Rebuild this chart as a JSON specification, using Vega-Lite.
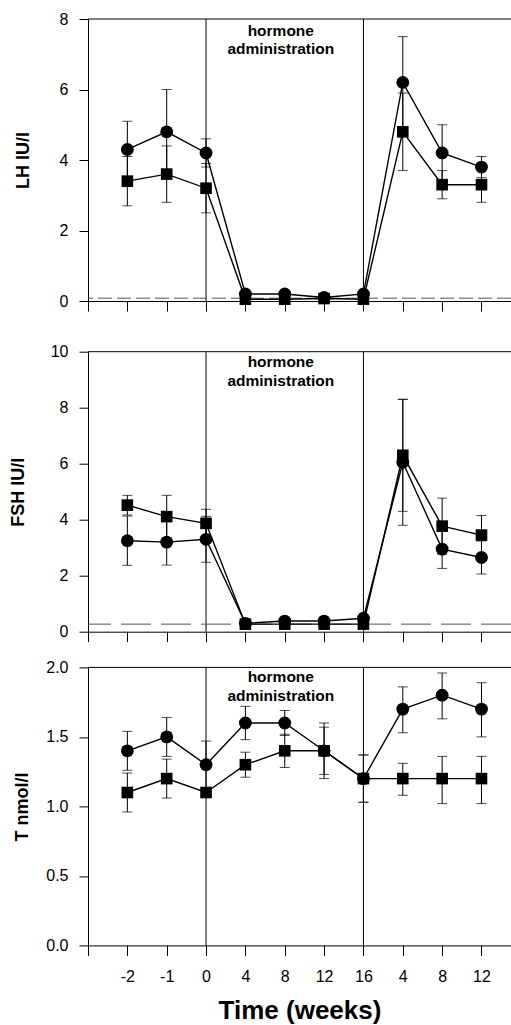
{
  "$schema": "https://vega.github.io/schema/vega-lite/v6.json",
  "padding": {"left": 9, "top": 11, "right": 0, "bottom": 0},
  "background": "white",
  "spacing": 16.7,
  "config": {
    "view": {"stroke": null},
    "axis": {
      "grid": false,
      "domainColor": "black",
      "domainWidth": 1,
      "tickColor": "black",
      "tickWidth": 1,
      "labelColor": "black",
      "labelFont": "Liberation Sans",
      "labelFontSize": 16,
      "titleFont": "Liberation Sans",
      "titleFontWeight": "bold",
      "titleColor": "black"
    }
  },
  "datasets": {
    "pts": [
      {"p": "LH", "pos": 0, "g": "c", "v": 4.3, "lo": 3.5, "hi": 5.1},
      {"p": "LH", "pos": 1, "g": "c", "v": 4.8, "lo": 3.6, "hi": 6.0},
      {"p": "LH", "pos": 2, "g": "c", "v": 4.2, "lo": 3.8, "hi": 4.6},
      {"p": "LH", "pos": 3, "g": "c", "v": 0.2},
      {"p": "LH", "pos": 4, "g": "c", "v": 0.2},
      {"p": "LH", "pos": 5, "g": "c", "v": 0.1},
      {"p": "LH", "pos": 6, "g": "c", "v": 0.2},
      {"p": "LH", "pos": 7, "g": "c", "v": 6.2, "lo": 4.9, "hi": 7.5},
      {"p": "LH", "pos": 8, "g": "c", "v": 4.2, "lo": 3.4, "hi": 5.0},
      {"p": "LH", "pos": 9, "g": "c", "v": 3.8, "lo": 3.5, "hi": 4.1},
      {"p": "LH", "pos": 0, "g": "s", "v": 3.4, "lo": 2.7, "hi": 4.1},
      {"p": "LH", "pos": 1, "g": "s", "v": 3.6, "lo": 2.8, "hi": 4.4},
      {"p": "LH", "pos": 2, "g": "s", "v": 3.2, "lo": 2.5, "hi": 3.9},
      {"p": "LH", "pos": 3, "g": "s", "v": 0.05},
      {"p": "LH", "pos": 4, "g": "s", "v": 0.05},
      {"p": "LH", "pos": 5, "g": "s", "v": 0.07},
      {"p": "LH", "pos": 6, "g": "s", "v": 0.05},
      {"p": "LH", "pos": 7, "g": "s", "v": 4.8, "lo": 3.7, "hi": 5.9},
      {"p": "LH", "pos": 8, "g": "s", "v": 3.3, "lo": 2.9, "hi": 3.7},
      {"p": "LH", "pos": 9, "g": "s", "v": 3.3, "lo": 2.8, "hi": 3.8},
      {"p": "FSH", "pos": 0, "g": "c", "v": 3.25, "lo": 2.37, "hi": 4.13},
      {"p": "FSH", "pos": 1, "g": "c", "v": 3.2, "lo": 2.38, "hi": 4.02},
      {"p": "FSH", "pos": 2, "g": "c", "v": 3.3, "lo": 2.48, "hi": 4.12},
      {"p": "FSH", "pos": 3, "g": "c", "v": 0.3},
      {"p": "FSH", "pos": 4, "g": "c", "v": 0.38},
      {"p": "FSH", "pos": 5, "g": "c", "v": 0.38},
      {"p": "FSH", "pos": 6, "g": "c", "v": 0.48},
      {"p": "FSH", "pos": 7, "g": "c", "v": 6.05, "lo": 3.8, "hi": 8.3},
      {"p": "FSH", "pos": 8, "g": "c", "v": 2.95, "lo": 2.26, "hi": 3.64},
      {"p": "FSH", "pos": 9, "g": "c", "v": 2.65, "lo": 2.06, "hi": 3.24},
      {"p": "FSH", "pos": 0, "g": "s", "v": 4.52, "lo": 4.17, "hi": 4.87},
      {"p": "FSH", "pos": 1, "g": "s", "v": 4.11, "lo": 3.35, "hi": 4.87},
      {"p": "FSH", "pos": 2, "g": "s", "v": 3.87, "lo": 3.37, "hi": 4.37},
      {"p": "FSH", "pos": 3, "g": "s", "v": 0.27},
      {"p": "FSH", "pos": 4, "g": "s", "v": 0.27},
      {"p": "FSH", "pos": 5, "g": "s", "v": 0.27},
      {"p": "FSH", "pos": 6, "g": "s", "v": 0.27},
      {"p": "FSH", "pos": 7, "g": "s", "v": 6.3, "lo": 4.3, "hi": 8.3},
      {"p": "FSH", "pos": 8, "g": "s", "v": 3.77, "lo": 2.77, "hi": 4.77},
      {"p": "FSH", "pos": 9, "g": "s", "v": 3.45, "lo": 2.75, "hi": 4.15},
      {"p": "T", "pos": 0, "g": "c", "v": 1.4, "lo": 1.26, "hi": 1.54},
      {"p": "T", "pos": 1, "g": "c", "v": 1.5, "lo": 1.36, "hi": 1.64},
      {"p": "T", "pos": 2, "g": "c", "v": 1.3, "lo": 1.13, "hi": 1.47},
      {"p": "T", "pos": 3, "g": "c", "v": 1.6, "lo": 1.48, "hi": 1.72},
      {"p": "T", "pos": 4, "g": "c", "v": 1.6, "lo": 1.51, "hi": 1.69},
      {"p": "T", "pos": 5, "g": "c", "v": 1.4, "lo": 1.23, "hi": 1.57},
      {"p": "T", "pos": 6, "g": "c", "v": 1.2, "lo": 1.03, "hi": 1.37},
      {"p": "T", "pos": 7, "g": "c", "v": 1.7, "lo": 1.53, "hi": 1.86},
      {"p": "T", "pos": 8, "g": "c", "v": 1.8, "lo": 1.63, "hi": 1.96},
      {"p": "T", "pos": 9, "g": "c", "v": 1.7, "lo": 1.5, "hi": 1.89},
      {"p": "T", "pos": 0, "g": "s", "v": 1.1, "lo": 0.96, "hi": 1.24},
      {"p": "T", "pos": 1, "g": "s", "v": 1.2, "lo": 1.06, "hi": 1.34},
      {"p": "T", "pos": 2, "g": "s", "v": 1.1, "lo": 1.07, "hi": 1.13},
      {"p": "T", "pos": 3, "g": "s", "v": 1.3, "lo": 1.21, "hi": 1.39},
      {"p": "T", "pos": 4, "g": "s", "v": 1.4, "lo": 1.28, "hi": 1.52},
      {"p": "T", "pos": 5, "g": "s", "v": 1.4, "lo": 1.2, "hi": 1.6},
      {"p": "T", "pos": 6, "g": "s", "v": 1.2, "lo": 1.03, "hi": 1.37},
      {"p": "T", "pos": 7, "g": "s", "v": 1.2, "lo": 1.08, "hi": 1.31},
      {"p": "T", "pos": 8, "g": "s", "v": 1.2, "lo": 1.02, "hi": 1.36},
      {"p": "T", "pos": 9, "g": "s", "v": 1.2, "lo": 1.02, "hi": 1.36}
    ],
    "vlines": [{"pos": 2}, {"pos": 6}],
    "notes": [
      {"p": "LH", "pos": 3.9, "v": 7.53, "top": 8, "ref": 0.08},
      {"p": "FSH", "pos": 3.9, "v": 9.44, "top": 10, "ref": 0.27},
      {"p": "T", "pos": 3.9, "v": 1.892, "top": 2}
    ]
  },
  "vconcat": [
    {
      "width": 423,
      "height": 282,
      "layer": [
        {"data": {"name": "vlines"}, "mark": {"type": "rule", "color": "black", "strokeWidth": 1}, "encoding": {"x": {"field": "pos", "type": "quantitative"}}},
        {"data": {"name": "notes"}, "transform": [{"filter": "datum.p == 'LH'"}], "mark": {"type": "rule", "color": "black", "strokeWidth": 1}, "encoding": {"y": {"field": "top", "type": "quantitative"}}},
        {"data": {"name": "notes"}, "transform": [{"filter": "datum.p == 'LH'"}], "mark": {"type": "rule", "color": "#555", "strokeWidth": 1, "strokeDash": [14, 5]}, "encoding": {"y": {"field": "ref", "type": "quantitative"}}},
        {"data": {"name": "pts"}, "transform": [{"filter": "datum.p == 'LH' && isValid(datum.lo)"}], "mark": {"type": "rule", "color": "black", "strokeWidth": 1}, "encoding": {"x": {"field": "pos", "type": "quantitative"}, "y": {"field": "lo", "type": "quantitative"}, "y2": {"field": "hi"}}},
        {"data": {"name": "pts"}, "transform": [{"filter": "datum.p == 'LH' && isValid(datum.lo)"}], "mark": {"type": "tick", "orient": "horizontal", "color": "black", "thickness": 1, "size": 10}, "encoding": {"x": {"field": "pos", "type": "quantitative"}, "y": {"field": "lo", "type": "quantitative"}}},
        {"data": {"name": "pts"}, "transform": [{"filter": "datum.p == 'LH' && isValid(datum.lo)"}], "mark": {"type": "tick", "orient": "horizontal", "color": "black", "thickness": 1, "size": 10}, "encoding": {"x": {"field": "pos", "type": "quantitative"}, "y": {"field": "hi", "type": "quantitative"}}},
        {"data": {"name": "pts"}, "transform": [{"filter": "datum.p == 'LH'"}], "mark": {"type": "line", "color": "black", "strokeWidth": 1.4}, "encoding": {"x": {"field": "pos", "type": "quantitative"}, "y": {"field": "v", "type": "quantitative"}, "detail": {"field": "g"}, "order": {"field": "pos"}}},
        {"data": {"name": "pts"}, "transform": [{"filter": "datum.p == 'LH'"}], "mark": {"type": "point", "filled": true, "color": "black", "opacity": 1}, "encoding": {"x": {"field": "pos", "type": "quantitative"}, "y": {"field": "v", "type": "quantitative"}, "shape": {"field": "g", "type": "nominal", "scale": {"domain": ["c", "s"], "range": ["circle", "square"]}, "legend": null}, "size": {"field": "g", "type": "nominal", "scale": {"domain": ["c", "s"], "range": [165, 135]}, "legend": null}}},
        {"data": {"name": "notes"}, "transform": [{"filter": "datum.p == 'LH'"}], "mark": {"type": "text", "font": "Liberation Sans", "fontWeight": "bold", "fontSize": 15.5, "lineHeight": 18.3, "align": "center", "baseline": "alphabetic", "color": "black", "text": ["hormone", "administration"]}, "encoding": {"x": {"field": "pos", "type": "quantitative"}, "y": {"field": "v", "type": "quantitative"}}}
      ],
      "encoding": {
        "x": {"type": "quantitative", "scale": {"domain": [-1, 9.75], "nice": false, "zero": false},
              "axis": {"title": null, "values": [-1, 0, 1, 2, 3, 4, 5, 6, 7, 8, 9], "tickSize": 10, "labelOpacity": 0, "labelFontSize": 10, "labelPadding": 5.3, "labelExpr": "datum.value < 0 ? '' : ['-2','-1','0','4','8','12','16','4','8','12'][datum.value]"}},
        "y": {"type": "quantitative", "scale": {"domain": [0, 8], "nice": false, "zero": false},
              "axis": {"title": "LH IU/l", "values": [0, 2, 4, 6, 8], "tickSize": 9, "labelPadding": 11, "titleFontSize": 18, "titlePadding": 27}}
      }
    },
    {
      "width": 423,
      "height": 280,
      "layer": [
        {"data": {"name": "vlines"}, "mark": {"type": "rule", "color": "black", "strokeWidth": 1}, "encoding": {"x": {"field": "pos", "type": "quantitative"}}},
        {"data": {"name": "notes"}, "transform": [{"filter": "datum.p == 'FSH'"}], "mark": {"type": "rule", "color": "black", "strokeWidth": 1}, "encoding": {"y": {"field": "top", "type": "quantitative"}}},
        {"data": {"name": "notes"}, "transform": [{"filter": "datum.p == 'FSH'"}], "mark": {"type": "rule", "color": "#555", "strokeWidth": 1, "strokeDash": [30, 10]}, "encoding": {"y": {"field": "ref", "type": "quantitative"}}},
        {"data": {"name": "pts"}, "transform": [{"filter": "datum.p == 'FSH' && isValid(datum.lo)"}], "mark": {"type": "rule", "color": "black", "strokeWidth": 1}, "encoding": {"x": {"field": "pos", "type": "quantitative"}, "y": {"field": "lo", "type": "quantitative"}, "y2": {"field": "hi"}}},
        {"data": {"name": "pts"}, "transform": [{"filter": "datum.p == 'FSH' && isValid(datum.lo)"}], "mark": {"type": "tick", "orient": "horizontal", "color": "black", "thickness": 1, "size": 10}, "encoding": {"x": {"field": "pos", "type": "quantitative"}, "y": {"field": "lo", "type": "quantitative"}}},
        {"data": {"name": "pts"}, "transform": [{"filter": "datum.p == 'FSH' && isValid(datum.lo)"}], "mark": {"type": "tick", "orient": "horizontal", "color": "black", "thickness": 1, "size": 10}, "encoding": {"x": {"field": "pos", "type": "quantitative"}, "y": {"field": "hi", "type": "quantitative"}}},
        {"data": {"name": "pts"}, "transform": [{"filter": "datum.p == 'FSH'"}], "mark": {"type": "line", "color": "black", "strokeWidth": 1.4}, "encoding": {"x": {"field": "pos", "type": "quantitative"}, "y": {"field": "v", "type": "quantitative"}, "detail": {"field": "g"}, "order": {"field": "pos"}}},
        {"data": {"name": "pts"}, "transform": [{"filter": "datum.p == 'FSH'"}], "mark": {"type": "point", "filled": true, "color": "black", "opacity": 1}, "encoding": {"x": {"field": "pos", "type": "quantitative"}, "y": {"field": "v", "type": "quantitative"}, "shape": {"field": "g", "type": "nominal", "scale": {"domain": ["c", "s"], "range": ["circle", "square"]}, "legend": null}, "size": {"field": "g", "type": "nominal", "scale": {"domain": ["c", "s"], "range": [165, 135]}, "legend": null}}},
        {"data": {"name": "notes"}, "transform": [{"filter": "datum.p == 'FSH'"}], "mark": {"type": "text", "font": "Liberation Sans", "fontWeight": "bold", "fontSize": 15.5, "lineHeight": 18.3, "align": "center", "baseline": "alphabetic", "color": "black", "text": ["hormone", "administration"]}, "encoding": {"x": {"field": "pos", "type": "quantitative"}, "y": {"field": "v", "type": "quantitative"}}}
      ],
      "encoding": {
        "x": {"type": "quantitative", "scale": {"domain": [-1, 9.75], "nice": false, "zero": false},
              "axis": {"title": null, "values": [-1, 0, 1, 2, 3, 4, 5, 6, 7, 8, 9], "tickSize": 10, "labels": false}},
        "y": {"type": "quantitative", "scale": {"domain": [0, 10], "nice": false, "zero": false},
              "axis": {"title": "FSH IU/l", "values": [0, 2, 4, 6, 8, 10], "tickSize": 9, "labelPadding": 11, "titleFontSize": 18, "titlePadding": 23}}
      }
    },
    {
      "width": 423,
      "height": 278,
      "layer": [
        {"data": {"name": "vlines"}, "mark": {"type": "rule", "color": "black", "strokeWidth": 1}, "encoding": {"x": {"field": "pos", "type": "quantitative"}}},
        {"data": {"name": "notes"}, "transform": [{"filter": "datum.p == 'T'"}], "mark": {"type": "rule", "color": "black", "strokeWidth": 1}, "encoding": {"y": {"field": "top", "type": "quantitative"}}},
        {"data": {"name": "pts"}, "transform": [{"filter": "datum.p == 'T' && isValid(datum.lo)"}], "mark": {"type": "rule", "color": "black", "strokeWidth": 1}, "encoding": {"x": {"field": "pos", "type": "quantitative"}, "y": {"field": "lo", "type": "quantitative"}, "y2": {"field": "hi"}}},
        {"data": {"name": "pts"}, "transform": [{"filter": "datum.p == 'T' && isValid(datum.lo)"}], "mark": {"type": "tick", "orient": "horizontal", "color": "black", "thickness": 1, "size": 10}, "encoding": {"x": {"field": "pos", "type": "quantitative"}, "y": {"field": "lo", "type": "quantitative"}}},
        {"data": {"name": "pts"}, "transform": [{"filter": "datum.p == 'T' && isValid(datum.lo)"}], "mark": {"type": "tick", "orient": "horizontal", "color": "black", "thickness": 1, "size": 10}, "encoding": {"x": {"field": "pos", "type": "quantitative"}, "y": {"field": "hi", "type": "quantitative"}}},
        {"data": {"name": "pts"}, "transform": [{"filter": "datum.p == 'T'"}], "mark": {"type": "line", "color": "black", "strokeWidth": 1.4}, "encoding": {"x": {"field": "pos", "type": "quantitative"}, "y": {"field": "v", "type": "quantitative"}, "detail": {"field": "g"}, "order": {"field": "pos"}}},
        {"data": {"name": "pts"}, "transform": [{"filter": "datum.p == 'T'"}], "mark": {"type": "point", "filled": true, "color": "black", "opacity": 1}, "encoding": {"x": {"field": "pos", "type": "quantitative"}, "y": {"field": "v", "type": "quantitative"}, "shape": {"field": "g", "type": "nominal", "scale": {"domain": ["c", "s"], "range": ["circle", "square"]}, "legend": null}, "size": {"field": "g", "type": "nominal", "scale": {"domain": ["c", "s"], "range": [165, 135]}, "legend": null}}},
        {"data": {"name": "notes"}, "transform": [{"filter": "datum.p == 'T'"}], "mark": {"type": "text", "font": "Liberation Sans", "fontWeight": "bold", "fontSize": 15.5, "lineHeight": 18.3, "align": "center", "baseline": "alphabetic", "color": "black", "text": ["hormone", "administration"]}, "encoding": {"x": {"field": "pos", "type": "quantitative"}, "y": {"field": "v", "type": "quantitative"}}}
      ],
      "encoding": {
        "x": {"type": "quantitative", "scale": {"domain": [-1, 9.75], "nice": false, "zero": false},
              "axis": {"title": "Time (weeks)", "titleFontSize": 26, "titlePadding": 13, "values": [-1, 0, 1, 2, 3, 4, 5, 6, 7, 8, 9], "tickSize": 10, "labelPadding": 13, "labelExpr": "datum.value < 0 ? '' : ['-2','-1','0','4','8','12','16','4','8','12'][datum.value]"}},
        "y": {"type": "quantitative", "scale": {"domain": [0, 2], "nice": false, "zero": false},
              "axis": {"title": "T nmol/l", "values": [0, 0.5, 1, 1.5, 2], "format": ".1f", "tickSize": 9, "labelPadding": 11, "titleFontSize": 18, "titlePadding": 14}}
      }
    }
  ]
}
